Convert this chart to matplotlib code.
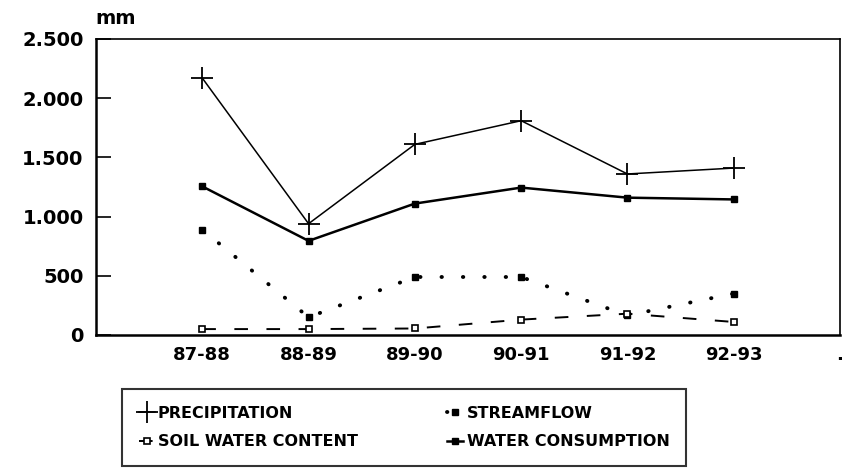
import matplotlib
matplotlib.use('Agg')
import matplotlib.pyplot as plt
from matplotlib.ticker import FuncFormatter

# hydrological years, values in mm
years = ['87-88', '88-89', '89-90', '90-91', '91-92', '92-93']
precip = [2170, 940, 1610, 1810, 1360, 1410]
streamflow = [890, 150, 490, 490, 165, 350]
soil_water = [50, 50, 55, 130, 180, 110]
water_cons = [1255, 795, 1110, 1245, 1160, 1145]

plt.rcParams['font.family'] = 'DejaVu Sans'
plt.rcParams['font.weight'] = 'bold'

fig = plt.figure(figsize=(8.44, 4.70), dpi=100)
ax = fig.add_axes([96/844, 1-335/470, (840-96)/844, (335-39)/470])

xs = list(range(1, len(years)+1))

l_p, = ax.plot(xs, precip, color='black', lw=1.1, marker='+', ms=16, mew=1.3)
l_s, = ax.plot(xs, streamflow, color='black', lw=2.8, ls=(0, (0.1, 5.4)),
               dash_capstyle='round', marker='s', ms=4.5)
l_w, = ax.plot(xs, soil_water, color='black', lw=1.4, ls=(0, (7, 9.5)),
               marker='s', ms=4, mfc='white', mew=1.2)
l_c, = ax.plot(xs, water_cons, color='black', lw=1.8, marker='s', ms=4.5)

ax.set_xlim(0, 7)
ax.set_ylim(0, 2500)
ax.set_yticks([0, 500, 1000, 1500, 2000, 2500])
ax.yaxis.set_major_formatter(FuncFormatter(lambda v, p: f'{v:,.0f}'.replace(',', '.')))
ax.set_xticks(xs + [7])
ax.set_xticklabels(years + ['.'])

ax.tick_params(axis='y', direction='in', length=11, width=1.2, pad=9,
               labelsize=14)
ax.tick_params(axis='x', length=0, pad=8, labelsize=13)
for s in ['left', 'bottom']:
    ax.spines[s].set_linewidth(1.8)
for s in ['top', 'right']:
    ax.spines[s].set_linewidth(1.2)

fig.text(95/844, 1-18/470, 'mm', fontsize=14, fontweight='bold',
         ha='left', va='center')

# legend rows: precipitation / streamflow, soil water / water consumption
leg = fig.legend([l_p, l_w, l_s, l_c],
                 ['PRECIPITATION', 'SOIL WATER CONTENT', 'STREAMFLOW',
                  'WATER CONSUMPTION'],
                 loc='upper left', ncol=2, bbox_to_anchor=(122/844, 1-389/470),
                 frameon=True, fancybox=False, fontsize=11.5,
                 handlelength=1.0, handletextpad=0.2, columnspacing=5.6,
                 borderpad=1.05, labelspacing=0.85, borderaxespad=0)
leg.get_frame().set_edgecolor('black')
leg.get_frame().set_linewidth(1.5)

fig.savefig('out.png', dpi=100)
